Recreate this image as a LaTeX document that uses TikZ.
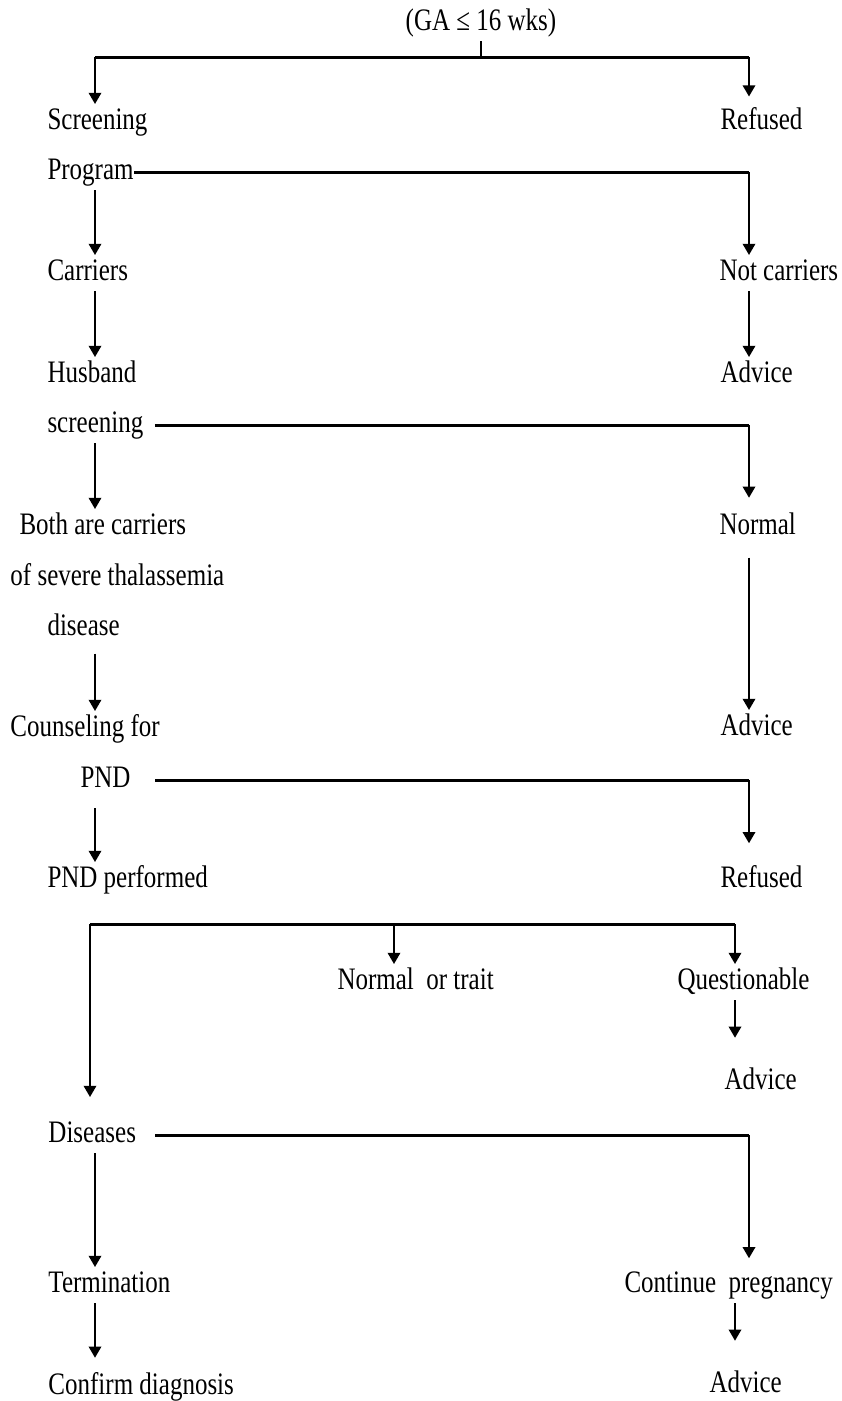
\documentclass[tikz,border=0pt]{standalone}
\usepackage{fontspec}
\setmainfont{Liberation Serif}[FakeStretch=0.8]
\usetikzlibrary{arrows.meta}
\begin{document}
\begin{tikzpicture}[x=0.4pt,y=-0.4pt]
                \tikzstyle{stepnode}=[anchor=west,inner xsep=0pt,inner ysep=1.5pt,text height=8.5pt,text depth=2.5pt,font=\fontsize{12.5}{15}\selectfont]
                \tikzstyle{flowline}=[line width=0.8pt,-{Triangle[length=4.5pt,width=5pt]}]
                \tikzstyle{barline}=[line width=1.2pt]
                \useasboundingbox (0,0) rectangle (841,1401);
                \coordinate (L) at (95,0);
                \coordinate (R) at (749,0);
                \coordinate (M) at (394,0);
                \coordinate (Q) at (735,0);
                \coordinate (top) at (481,57);
                \coordinate (split) at (90,924);
                \node[stepnode,anchor=center] (ga) at (481,23) {(GA ≤ 16 wks)};
                \node[stepnode] (scr) at (47,122) {Screening};
                \node[stepnode] (ref1) at (720,122) {Refused};
                \node[stepnode] (prog) at (47,172) {Program};
                \node[stepnode] (car) at (47,273) {Carriers};
                \node[stepnode] (notcar) at (719,273) {Not carriers};
                \node[stepnode] (husb) at (47,375) {Husband};
                \node[stepnode] (adv1) at (720,375) {Advice};
                \node[stepnode] (hscr) at (47,425) {screening};
                \node[stepnode] (both) at (19,527) {Both are carriers};
                \node[stepnode] (norm) at (719,527) {Normal};
                \node[stepnode] (sev) at (10,578) {of severe thalassemia};
                \node[stepnode] (dis) at (47,628) {disease};
                \node[stepnode] (couns) at (10,729) {Counseling for};
                \node[stepnode] (adv2) at (720,728) {Advice};
                \node[stepnode] (pnd) at (80,780) {PND};
                \node[stepnode] (pndp) at (47,880) {PND performed};
                \node[stepnode] (ref2) at (720,880) {Refused};
                \node[stepnode] (nort) at (337,982) {Normal\ \ or trait};
                \node[stepnode] (quest) at (677,982) {Questionable};
                \node[stepnode] (adv3) at (724,1082) {Advice};
                \node[stepnode] (dises) at (48,1135) {Diseases};
                \node[stepnode] (term) at (48,1285) {Termination};
                \node[stepnode] (cont) at (624,1285) {Continue\ \ pregnancy};
                \node[stepnode] (confd) at (48,1387) {Confirm diagnosis};
                \node[stepnode] (adv4) at (709,1385) {Advice};
                \draw[line width=0.8pt] (ga.south) -- (top);
                \draw[barline] (top -| L) -- (top -| R);
                \draw[flowline] (top -| L) -- (scr.north -| L);
                \draw[flowline,shorten >=3pt] (top -| R) -- (ref1.north -| R);
                \draw[barline] (prog.east) -- (prog.east -| R);
                \draw[flowline] (prog.east -| R) -- (notcar.north -| R);
                \draw[flowline] (prog.south -| L) -- (car.north -| L);
                \draw[flowline] (car.south -| L) -- (husb.north -| L);
                \draw[flowline] (notcar.south -| R) -- (adv1.north -| R);
                \draw[barline] ([xshift=4.4pt]hscr.east) -- (hscr.east -| R);
                \draw[flowline,shorten >=4.5pt] (hscr.east -| R) -- (norm.north -| R);
                \draw[flowline] (hscr.south -| L) -- (both.north -| L);
                \draw[flowline,shorten <=5pt] (norm.south -| R) -- (adv2.north -| R);
                \draw[flowline,shorten <=3pt] (dis.south -| L) -- (couns.north -| L);
                \draw[barline] ([xshift=9.6pt]pnd.east) -- (pnd.east -| R);
                \draw[flowline,shorten >=7.5pt] (pnd.east -| R) -- (ref2.north -| R);
                \draw[flowline,shorten <=4pt] (pnd.south -| L) -- (pndp.north -| L);
                \draw[barline] (split) -- (split -| Q);
                \draw[flowline] (split -| M) -- (nort.north -| M);
                \draw[flowline] (split -| Q) -- (quest.north -| Q);
                \draw[flowline,shorten >=8pt] (split) -- (dises.north -| split);
                \draw[flowline,shorten >=10.5pt] (quest.south -| Q) -- (adv3.north -| Q);
                \draw[barline] ([xshift=7.6pt]dises.east) -- (dises.east -| R);
                \draw[flowline,shorten >=3.5pt] (dises.east -| R) -- (cont.north -| R);
                \draw[flowline] (dises.south -| L) -- (term.north -| L);
                \draw[flowline,shorten >=4.5pt] (term.south -| L) -- (confd.north -| L);
                \draw[flowline,shorten >=10.5pt] (cont.south -| Q) -- (adv4.north -| Q);
            \end{tikzpicture}
\end{document}
